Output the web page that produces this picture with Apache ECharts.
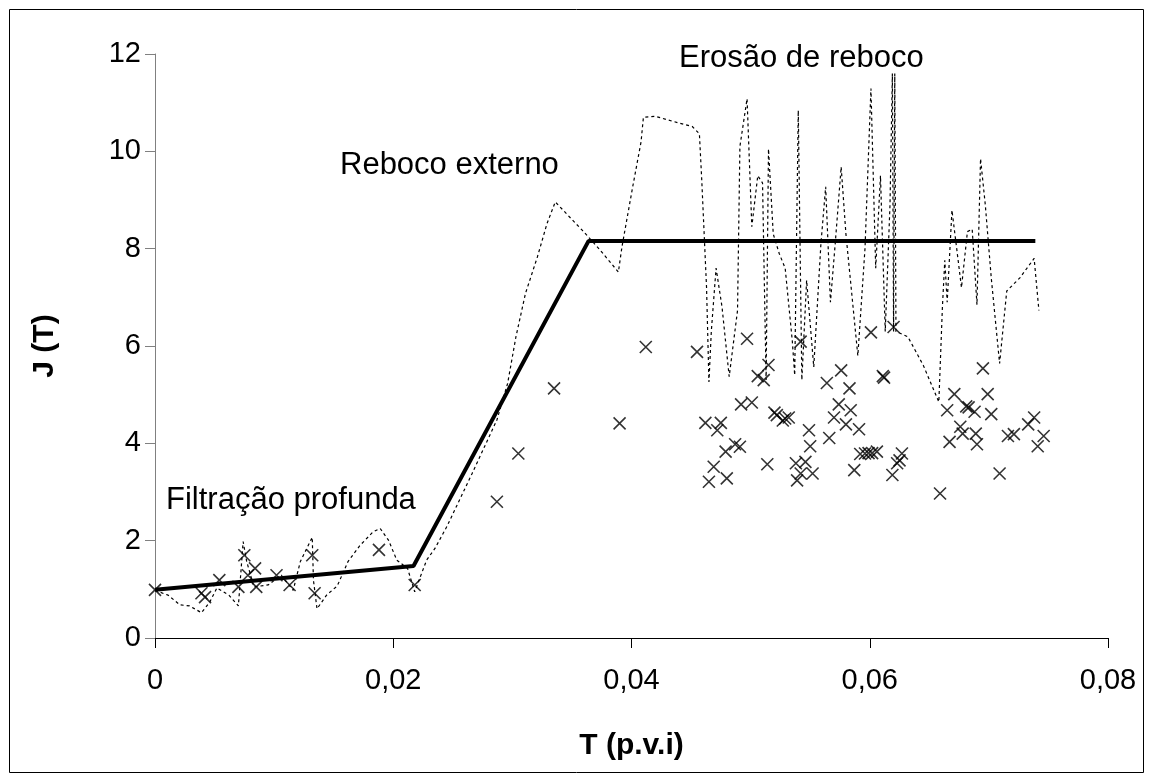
<!DOCTYPE html>
<html>
<head>
<meta charset="utf-8">
<script src="https://cdn.jsdelivr.net/npm/echarts@6/dist/echarts.min.js"></script>
<style>
html,body{margin:0;padding:0;background:#fff;}
#chart{width:1152px;height:782px;}
</style>
</head>
<body>
<div id="chart"></div>
<script>
// Modelo (linha sólida)
const modelT = [0, 0.0217, 0.0364, 0.0739];
const modelJ = [0.99, 1.48, 8.16, 8.16];

// Curva pontilhada
const dotT = [0,0.0011,0.0021,0.0029,0.0039,0.0046,0.0052,0.0062,0.0070,0.0074,0.0077,0.0083,0.0095,0.0106,0.0116,0.0122,0.0132,0.0133,0.0136,0.0144,0.0153,0.0162,0.0172,0.0183,0.0189,0.0196,0.0203,0.0212,0.0218,0.0228,0.0235,
0.0245,0.0266,0.0287,0.0296,0.0303,0.0311,0.0321,0.0329,0.0336,0.0359,0.0373,0.0389,0.0392,0.0401,
0.0408,0.0410,0.0420,0.0440,0.0451,0.0457,0.0459,0.0463,0.0465,0.0467,0.0471,0.0476,0.0482,0.0489,0.0491,0.0497,0.0501,0.0506,0.0510,0.0513,0.0515,0.0519,0.0524,0.0529,0.0535,0.0537,0.0540,0.0543,0.0547,0.0553,0.0559,0.0563,0.0567,0.0571,0.0576,0.0580,0.0584,0.0590,0.0596,0.0601,0.0605,0.0609,0.0613,0.0617,0.0619,0.0620,0.0621,0.0622,0.0632,0.0645,0.0658,0.0661,0.0663,0.0665,0.0669,0.0673,0.0677,0.0682,0.0686,0.0690,0.0693,0.0697,0.0702,0.0709,0.0715,0.0726,0.0738,0.0742];
const dotJ = [0.98,0.88,0.68,0.66,0.52,0.74,1.03,0.88,0.66,1.98,1.57,1.05,1.09,1.29,0.98,1.57,2.07,1.19,0.60,0.88,1.07,1.57,1.90,2.18,2.25,2.01,1.60,1.43,0.95,1.60,1.84,
2.29,3.37,4.48,5.23,6.19,7.08,7.83,8.51,8.96,8.37,7.99,7.52,8.04,9.27,
10.19,10.70,10.72,10.58,10.51,10.36,9.40,7.20,5.26,6.30,7.60,6.80,5.37,6.73,10.10,11.08,8.45,9.50,9.35,5.30,10.05,8.30,7.90,7.60,6.10,5.40,10.84,5.30,7.35,5.57,8.10,9.27,6.90,8.10,9.68,8.30,7.30,5.80,8.00,11.29,7.60,9.50,6.30,8.90,11.60,6.30,11.60,6.30,6.19,5.60,4.85,6.80,7.76,6.90,8.79,8.00,7.20,8.35,8.40,6.85,9.85,8.90,7.40,5.64,7.13,7.40,7.80,6.73];

// Pontos experimentais (×)
const expT = [0,0.0039,0.0042,0.0054,0.0070,0.0075,0.0078,0.0084,0.0085,0.0102,0.0113,0.0132,0.0134,0.0188,0.0218,
0.0287,0.0305,0.0335,0.0390,0.0412,0.0455,0.0497,0.0542,0.0601,0.0620,0.0515,0.0506,0.0511,0.0576,0.0564,0.0583,0.0611,0.0612,
0.0492,0.0501,0.0520,0.0522,0.0527,0.0529,0.0532,0.0574,0.0584,0.0570,0.0580,0.0591,0.0462,0.0475,0.0472,0.0549,0.0566,
0.0487,0.0491,0.0479,0.0550,0.0592,0.0596,0.0599,0.0602,0.0606,0.0514,0.0469,0.0538,0.0546,0.0542,0.0552,0.0539,0.0480,0.0465,0.0587,0.0619,0.0623,
0.0627,0.0625,0.0659,0.0695,0.0671,0.0699,0.0681,0.0683,0.0665,0.0688,0.0702,0.0738,0.0676,0.0733,0.0678,0.0689,0.0716,0.0721,0.0746,0.0667,0.0690,0.0741,0.0709];
const expJ = [0.99,0.92,0.84,1.19,1.05,1.70,1.29,1.43,1.05,1.29,1.09,1.70,0.92,1.81,1.09,
2.80,3.79,5.13,4.41,5.98,5.88,6.15,6.09,6.28,6.39,5.61,5.38,5.30,5.50,5.24,5.13,5.38,5.35,
4.80,4.84,4.63,4.58,4.47,4.51,4.53,4.80,4.68,4.53,4.39,4.29,4.42,4.42,4.27,4.27,4.11,
3.98,3.93,3.83,3.94,3.78,3.79,3.80,3.80,3.83,3.57,3.52,3.59,3.62,3.38,3.38,3.24,3.28,3.21,3.45,3.35,3.59,
3.79,3.65,2.97,5.54,5.01,5.01,4.76,4.74,4.68,4.65,4.60,4.53,4.34,4.39,4.20,4.20,4.15,4.19,4.15,4.03,3.98,3.94,3.38];

const xTicks = [0, 0.02, 0.04, 0.06, 0.08];
const yTicks = [0, 2, 4, 6, 8, 10, 12];

const labels = ['Filtração profunda', 'Reboco externo', 'Erosão de reboco'];
const xTitle = 'T (p.v.i)';
const yTitle = 'J (T)';

const zip = (a, b) => a.map((v, i) => [v, b[i]]);
const FONT = '"Liberation Sans", Arial, sans-serif';

const chart = echarts.init(document.getElementById('chart'), null, {renderer: 'canvas'});
chart.setOption({
  animation: false,
  backgroundColor: '#fff',
  grid: {left: 155, right: 44, top: 54, bottom: 144},
  xAxis: {
    type: 'value', min: xTicks[0], max: xTicks[xTicks.length - 1], interval: 0.02,
    name: xTitle, nameLocation: 'middle', nameGap: 93,
    nameTextStyle: {fontFamily: FONT, fontSize: 30, fontWeight: 'bold', color: '#000'},
    axisLine: {onZero: false, lineStyle: {color: '#000', width: 1}},
    axisTick: {show: true, length: 10, inside: false, lineStyle: {color: '#000'}},
    axisLabel: {fontFamily: FONT, fontSize: 29, color: '#000', margin: 28,
      formatter: v => String(+v.toFixed(2)).replace('.', ',')},
    splitLine: {show: false}
  },
  yAxis: {
    type: 'value', min: yTicks[0], max: yTicks[yTicks.length - 1], interval: 2,
    name: yTitle, nameLocation: 'middle', nameGap: 95, nameRotate: 90,
    nameTextStyle: {fontFamily: FONT, fontSize: 30, fontWeight: 'bold', color: '#000'},
    axisLine: {lineStyle: {color: '#808080', width: 1}},
    axisTick: {show: true, length: 10, lineStyle: {color: '#808080'}},
    axisLabel: {fontFamily: FONT, fontSize: 29, color: '#000', margin: 14},
    splitLine: {show: false}
  },
  series: [
    {
      type: 'line', data: zip(dotT, dotJ), symbol: 'none', z: 2,
      lineStyle: {color: '#000', width: 1.2, type: [3, 3]}
    },
    {
      type: 'scatter', data: zip(expT, expJ), z: 3,
      symbol: 'path://M0,0L10,10M10,0L0,10', symbolSize: 12,
      itemStyle: {color: 'rgba(0,0,0,0)', borderColor: '#000', borderWidth: 1.6}
    },
    {
      type: 'line', data: zip(modelT, modelJ), symbol: 'none', z: 4,
      lineStyle: {color: '#000', width: 4}
    }
  ],
  graphic: [
    {type: 'rect', shape: {x: 9.5, y: 9.5, width: 1134, height: 763}, style: {fill: 'none', stroke: '#000', lineWidth: 1}, z: 0, silent: true},
    {type: 'text', left: 166, top: 485, style: {text: labels[0], font: '31px ' + FONT, fill: '#000'}},
    {type: 'text', left: 340, top: 150, style: {text: labels[1], font: '31px ' + FONT, fill: '#000'}},
    {type: 'text', left: 679, top: 43, style: {text: labels[2], font: '31px ' + FONT, fill: '#000'}}
  ]
});
</script>
</body>
</html>
